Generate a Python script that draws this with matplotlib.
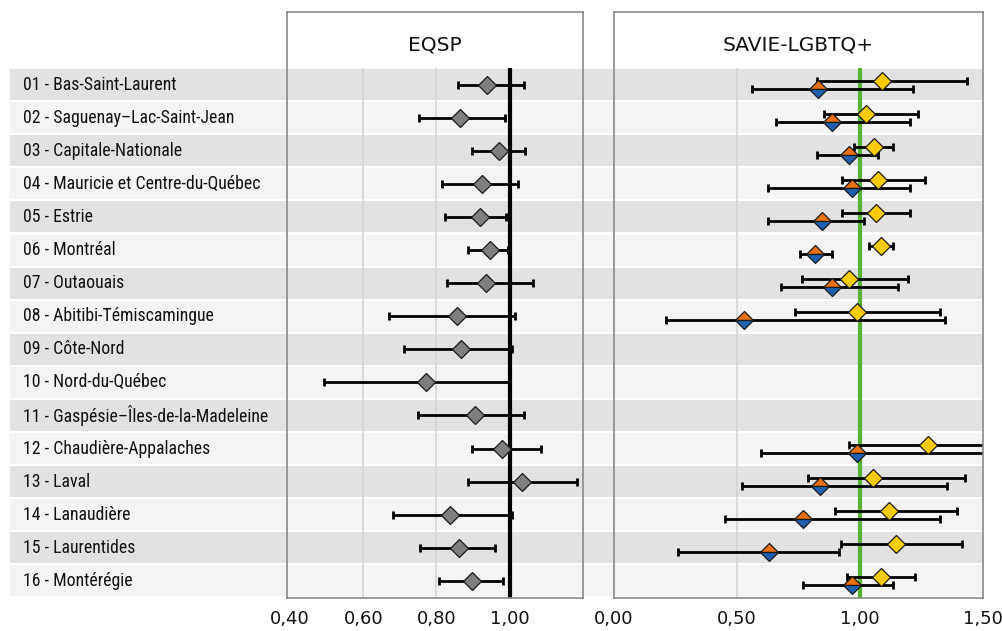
import numpy as np
import matplotlib
matplotlib.use("Agg")
import matplotlib.pyplot as plt
import matplotlib.transforms as mtransforms

# ---- data -------------------------------------------------------------
regions = [
    "01 - Bas-Saint-Laurent",
    "02 - Saguenay\u2013Lac-Saint-Jean",
    "03 - Capitale-Nationale",
    "04 - Mauricie et Centre-du-Québec",
    "05 - Estrie",
    "06 - Montréal",
    "07 - Outaouais",
    "08 - Abitibi-Témiscamingue",
    "09 - Côte-Nord",
    "10 - Nord-du-Québec",
    "11 - Gaspésie\u2013Îles-de-la-Madeleine",
    "12 - Chaudière-Appalaches",
    "13 - Laval",
    "14 - Lanaudière",
    "15 - Laurentides",
    "16 - Montérégie",
]

# EQSP ratios with confidence limits
eqsp_est = [0.938, 0.863, 0.970, 0.924, 0.920, 0.945, 0.936, 0.856,
            0.866, 0.772, 0.906, 0.979, 1.033, 0.838, 0.861, 0.897]
eqsp_low = [0.860, 0.751, 0.897, 0.814, 0.822, 0.887, 0.830, 0.671,
            0.711, 0.492, 0.749, 0.896, 0.886, 0.681, 0.756, 0.808]
eqsp_high = [1.038, 0.988, 1.041, 1.023, 0.991, 0.996, 1.063, 1.014,
             1.005, 1.000, 1.038, 1.085, 1.184, 1.005, 0.961, 0.982]

nan = np.nan
# SAVIE-LGBTQ+ : first series (yellow)
savie1_est = [1.088, 1.024, 1.055, 1.075, 1.066, 1.085, 0.955, 0.986,
              nan, nan, nan, 1.275, 1.054, 1.116, 1.146, 1.086]
savie1_low = [0.827, 0.855, 0.974, 0.926, 0.926, 1.036, 0.766, 0.737,
              nan, nan, nan, 0.954, 0.787, 0.897, 0.924, 0.946]
savie1_high = [1.434, 1.235, 1.135, 1.265, 1.205, 1.135, 1.194, 1.324,
               nan, nan, nan, 1.650, 1.425, 1.393, 1.413, 1.224]

# SAVIE-LGBTQ+ : second series (orange / blue)
savie2_est = [0.828, 0.888, 0.957, 0.966, 0.847, 0.819, 0.888, 0.530,
              nan, nan, nan, 0.988, 0.838, 0.768, 0.630, 0.967]
savie2_low = [0.560, 0.657, 0.827, 0.628, 0.628, 0.758, 0.678, 0.211,
              nan, nan, nan, 0.599, 0.519, 0.450, 0.261, 0.767]
savie2_high = [1.215, 1.205, 1.074, 1.205, 1.016, 0.888, 1.154, 1.344,
               nan, nan, nan, 1.580, 1.355, 1.324, 0.916, 1.136]

eqsp_ticks = [0.40, 0.60, 0.80, 1.00]
eqsp_ticklabels = ["0,40", "0,60", "0,80", "1,00"]
savie_ticks = [0.00, 0.50, 1.00, 1.50]
savie_ticklabels = ["0,00", "0,50", "1,00", "1,50"]
panel_titles = ["EQSP", "SAVIE-LGBTQ+"]

# ---- styling ----------------------------------------------------------
LABEL_FONT = ["Liberation Sans Narrow", "Roboto Condensed", "DejaVu Sans"]
MAIN_FONT = ["DejaVu Sans"]
plt.rcParams["font.family"] = MAIN_FONT

BAND_DARK = "#e2e2e2"
BAND_LIGHT = "#f4f4f4"
GRID = "#d5d5d5"
FRAME = "#8a8a8a"
GRAY = "#7f7f7f"
YELLOW = "#ffcb05"
ORANGE = "#e8700e"
BLUE = "#1f5fae"
GREEN = "#58b233"

W, H = 1003, 631
fig = plt.figure(figsize=(W / 100, H / 100), dpi=100)


def box(x0, x1, y_top, y_bot):
    return [x0 / W, 1 - y_bot / H, (x1 - x0) / W, (y_bot - y_top) / H]


BOX_TOP, BAND_TOP, BOX_BOT = 12, 68, 597.5
n = len(regions)
rows = np.arange(n)
row_h = (BOX_BOT - BAND_TOP) / n
ylim = (n - 0.5, -0.5 - (BAND_TOP - BOX_TOP) / row_h)
title_y = -0.5 - (BAND_TOP - 45) / row_h

# alternating row bands and region names behind both panels
bg = fig.add_axes(box(10, 983, BOX_TOP, BOX_BOT), zorder=0)
bg.set_xlim(0, 1)
bg.set_ylim(*ylim)
bg.axis("off")
for i in rows:
    bg.axhspan(i - 0.468, i + 0.468, color=BAND_DARK if i % 2 == 0 else BAND_LIGHT, lw=0)
    bg.text(13 / 973, i, regions[i], ha="left", va="center", fontsize=12.8,
            family=LABEL_FONT, color="#111111")

axL = fig.add_axes(box(287, 583, BOX_TOP, BOX_BOT), zorder=1)
axR = fig.add_axes(box(614, 983, BOX_TOP, BOX_BOT), zorder=1)

for ax, title in zip((axL, axR), panel_titles):
    ax.patch.set_alpha(0)
    ax.set_ylim(*ylim)
    ax.set_yticks([])
    for sp in ax.spines.values():
        sp.set_color(FRAME)
        sp.set_linewidth(1.2)
    ax.tick_params(axis="x", length=0, pad=9, labelsize=13, colors="#111111")
    trans = mtransforms.blended_transform_factory(ax.transAxes, ax.transData)
    ax.text(0.5, title_y, title, transform=trans, ha="center", va="center",
            fontsize=14.5, color="#111111")

axL.set_xlim(0.392, 1.2)
axL.set_xticks(eqsp_ticks)
axL.set_xticklabels(eqsp_ticklabels)
axR.set_xlim(0.0, 1.5)
axR.set_xticks(savie_ticks)
axR.set_xticklabels(savie_ticklabels)

# light vertical gridlines within the band area
axL.vlines([0.6, 0.8], -0.5, n - 0.5, color=GRID, lw=1.2, zorder=1)
axR.vlines([0.5], -0.5, n - 0.5, color=GRID, lw=1.2, zorder=1)

# reference lines at 1
axL.vlines(1.0, -0.5, n - 0.5, color="black", lw=3.0, zorder=1.5)
axR.vlines(1.0, -0.5, n - 0.5, color=GREEN, lw=3.0, zorder=1.5)

err_kw = dict(fmt="none", ecolor="black", elinewidth=2.0, capsize=2.8,
              capthick=2.0, zorder=2)
mk_kw = dict(ls="none", marker="D", ms=8.8, mew=0.9, mec="#1a1a1a", zorder=3)


def draw_series(ax, est, low, high, y, **style):
    est = np.asarray(est, float)
    low = np.asarray(low, float)
    high = np.asarray(high, float)
    ok = ~np.isnan(est)
    ax.errorbar(est[ok], y[ok], xerr=[est[ok] - low[ok], high[ok] - est[ok]], **err_kw)
    ax.plot(est[ok], y[ok], **mk_kw, **style)


draw_series(axL, eqsp_est, eqsp_low, eqsp_high, rows.astype(float), mfc=GRAY)
draw_series(axR, savie1_est, savie1_low, savie1_high, rows - 0.12, mfc=YELLOW)
draw_series(axR, savie2_est, savie2_low, savie2_high, rows + 0.12,
            mfc=ORANGE, mfcalt=BLUE, fillstyle="top")

fig.savefig("out.png", dpi=100)
